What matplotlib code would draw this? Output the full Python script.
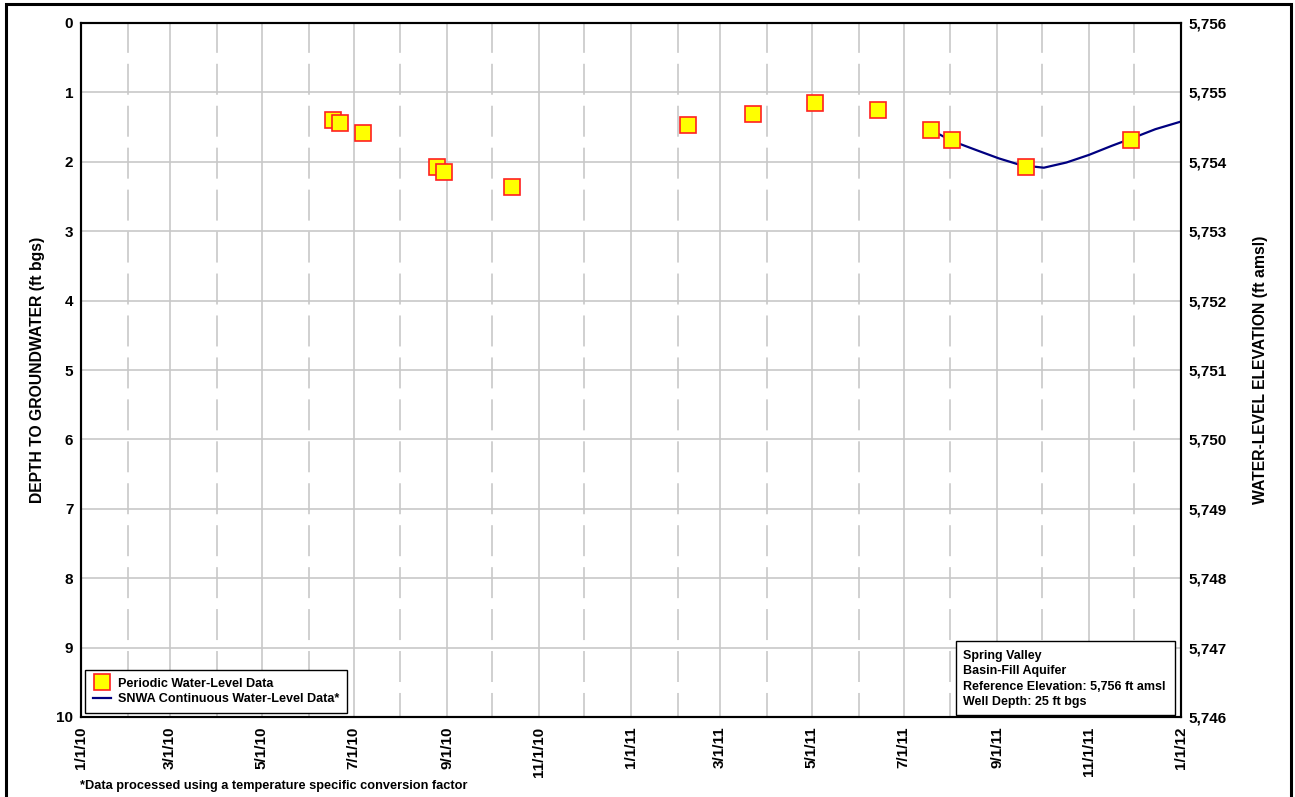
import matplotlib
matplotlib.use("Agg")
import matplotlib.pyplot as plt
import matplotlib.dates as mdates
from matplotlib.lines import Line2D
from matplotlib.patches import Rectangle
import pandas as pd

plt.rcParams['font.family'] = ['Liberation Sans', 'DejaVu Sans']
plt.rcParams['font.weight'] = 'bold'
plt.rcParams['lines.scale_dashes'] = False

# Periodic (manual) water-level measurements: depth to water, ft bgs
periodic_dates = ["2010-06-17", "2010-06-22", "2010-07-07", "2010-08-25", "2010-08-30",
                  "2010-10-14", "2011-02-08", "2011-03-23", "2011-05-03", "2011-06-14",
                  "2011-07-19", "2011-08-02", "2011-09-20", "2011-11-29"]
periodic_depth = [1.40, 1.44, 1.58, 2.07, 2.15, 2.36, 1.47, 1.31, 1.15, 1.25,
                  1.54, 1.69, 2.07, 1.69]

# Continuous transducer record: depth to water, ft bgs
continuous_dates = ["2011-07-19", "2011-08-02", "2011-08-18", "2011-09-02", "2011-09-17",
                    "2011-10-02", "2011-10-17", "2011-11-01", "2011-11-16", "2011-12-02",
                    "2011-12-15", "2012-01-01"]
continuous_depth = [1.54, 1.70, 1.83, 1.95, 2.05, 2.085, 2.01, 1.90, 1.77, 1.64, 1.53, 1.42]

reference_elevation = 5756
depth_ticks = list(range(0, 11))

pdates = pd.to_datetime(periodic_dates)
cdates = pd.to_datetime(continuous_dates)

W, H = 1295, 797
AX_L, AX_R, AX_T, AX_B = 81, 1181, 23, 717
fig = plt.figure(figsize=(W / 100, H / 100), dpi=100)
ax = fig.add_axes([AX_L / W, 1 - AX_B / H, (AX_R - AX_L) / W, (AX_B - AX_T) / H])


def ax_xy(px, py):
    """pixel position -> axes fraction"""
    return (px - AX_L) / (AX_R - AX_L), (AX_B - py) / (AX_B - AX_T)


x0, x1 = pd.Timestamp("2010-01-01"), pd.Timestamp("2012-01-01")
ax.set_xlim(x0, x1)
ax.set_ylim(10, 0)

grid_c = "#c8c8c8"
# solid grid at labelled months, dashed grid at the months in between
ax.xaxis.set_major_locator(mdates.MonthLocator(bymonth=[1, 3, 5, 7, 9, 11]))
ax.xaxis.set_minor_locator(mdates.MonthLocator(bymonth=[2, 4, 6, 8, 10, 12]))
ax.xaxis.set_major_formatter(mdates.DateFormatter("%-m/%-d/%y"))
ax.set_yticks(depth_ticks)
ax.grid(True, which="major", axis="both", color=grid_c, lw=1.2, zorder=0)
ax.grid(True, which="minor", axis="x", color=grid_c, lw=1.2, ls=(5, (22.3, 7.9)), zorder=0)
ax.set_axisbelow(True)

ax.tick_params(axis="both", which="both", length=0, labelsize=11)
ax.tick_params(axis="x", pad=7)
ax.tick_params(axis="y", pad=5.5)
for lbl in ax.get_xticklabels():
    lbl.set_rotation(90)
    lbl.set_fontweight("bold")
for lbl in ax.get_yticklabels():
    lbl.set_fontweight("bold")

for sp in ax.spines.values():
    sp.set_color("black")
    sp.set_linewidth(1.5)

ax.plot(cdates, continuous_depth, color="#000080", lw=1.6, zorder=3)
ax.plot(pdates, periodic_depth, ls="none", marker="s", ms=11, mfc="#ffff00",
        mec="#ff2020", mew=1.2, zorder=4)

ax.set_ylabel("DEPTH TO GROUNDWATER (ft bgs)", fontsize=11.3, fontweight="bold", labelpad=8)

# elevation axis on the right
ax2 = ax.twinx()
ax2.set_ylim(reference_elevation - 10, reference_elevation)
ax2.set_yticks([reference_elevation - d for d in depth_ticks])
ax2.yaxis.set_major_formatter(matplotlib.ticker.FuncFormatter(lambda v, p: f"{int(v):,}"))
ax2.tick_params(axis="y", length=0, labelsize=11, pad=5.5)
for lbl in ax2.get_yticklabels():
    lbl.set_fontweight("bold")
for sp in ax2.spines.values():
    sp.set_color("black")
    sp.set_linewidth(1.5)
ax2.set_ylabel("WATER-LEVEL ELEVATION (ft amsl)", fontsize=11.3, fontweight="bold",
               labelpad=19, rotation=90)

handles = [
    Line2D([], [], ls="none", marker="s", ms=11, mfc="#ffff00", mec="#ff2020", mew=1.2),
    Line2D([], [], color="#000080", lw=1.6),
]
leg = ax.legend(handles, ["Periodic Water-Level Data", "SNWA Continuous Water-Level Data*"],
                loc="lower left", bbox_to_anchor=ax_xy(85, 713), borderaxespad=0,
                frameon=True, fancybox=False, framealpha=1, edgecolor="black",
                handlelength=1.45, handletextpad=0.55, labelspacing=0.3, borderpad=0.6,
                prop={"weight": "bold", "size": 9.1})
leg.get_frame().set_linewidth(1.0)
leg.set_zorder(10)

# site information box
bx0, by0 = ax_xy(956, 715)
bx1, by1 = ax_xy(1175, 641)
ax.add_patch(Rectangle((bx0, by0), bx1 - bx0, by1 - by0, transform=ax.transAxes,
                       fc="white", ec="black", lw=1.0, zorder=9))
info = ("Spring Valley\nBasin-Fill Aquifer\n"
        f"Reference Elevation: {reference_elevation:,} ft amsl\nWell Depth: 25 ft bgs")
tx, ty = ax_xy(963, 679)
ax.text(tx, ty, info, transform=ax.transAxes, ha="left", va="center",
        fontsize=9, fontweight="bold", linespacing=1.35, zorder=10)

fig.text(80 / W, 1 - 786 / H, "*Data processed using a temperature specific conversion factor",
         ha="left", va="center", fontsize=9.2, fontweight="bold")

fig.patches.append(Rectangle((6 / W, -0.01), (1291 - 6) / W, 1 - 4 / H + 0.01,
                             transform=fig.transFigure, fill=False, ec="black", lw=2.2))

fig.savefig("out.png", dpi=100)
